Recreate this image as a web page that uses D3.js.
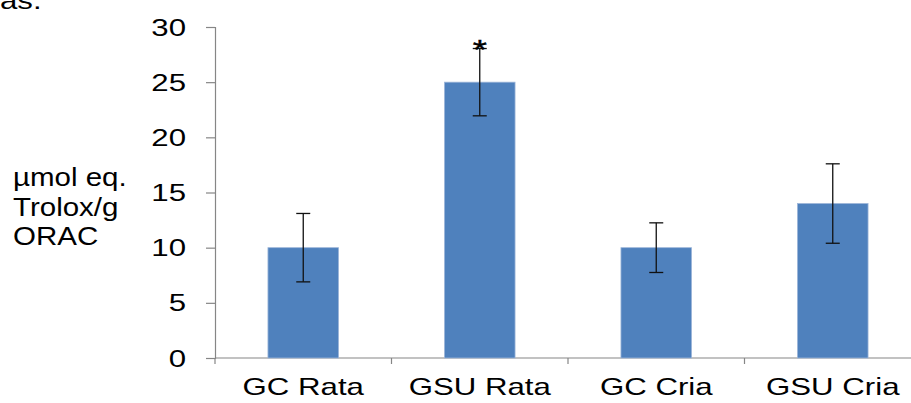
<!DOCTYPE html>
<html>
<head>
<meta charset="utf-8">
<script src="https://cdn.jsdelivr.net/npm/d3@7"></script>
<style>
  html, body { margin: 0; padding: 0; background: #fff; }
  svg { display: block; font-family: Arial, "Liberation Sans", sans-serif; }
</style>
</head>
<body>
<svg id="chart" width="911" height="403"></svg>
<script>
// ORAC antioxidant capacity per group
const categories = ["GC Rata", "GSU Rata", "GC Cria", "GSU Cria"];
const means = [10, 25, 10, 14];
const errors = [3.1, 3.05, 2.25, 3.6];
const marks = ["", "*", "", ""];
const yTicks = [0, 5, 10, 15, 20, 25, 30];
const yLabelLines = ["µmol eq.", "Trolox/g", "ORAC"];

const svg = d3.select("#chart");

const x0 = 215, y0 = 358, yTop = 27;
const band = 176.5;
const axisColor = "#868686";
const stretch = 1.3;   // wide letterforms used throughout the figure

const x = d3.scaleBand()
  .domain(categories)
  .range([x0, x0 + band * categories.length])
  .paddingInner(0.6)
  .paddingOuter(0.3);

const y = d3.scaleLinear().domain([0, 30]).range([y0, yTop]);

// text helper: horizontally widened labels
function label(sel, px, py, size, sx, anchor) {
  return sel.append("text")
    .attr("transform", `translate(${px},${py}) scale(${sx},1)`)
    .attr("font-size", size)
    .attr("text-anchor", anchor || "start")
    .attr("fill", "#000");
}

// caption fragment from the text above the figure
label(svg, 0, 9, 24, stretch, "start").text("as.");

// y axis
const yAxis = svg.append("g")
  .attr("transform", `translate(${x0},0)`)
  .call(d3.axisLeft(y).tickValues(yTicks).tickSize(9).tickFormat(""));
yAxis.select(".domain").attr("stroke", axisColor).attr("stroke-width", 1.2);
yAxis.selectAll(".tick line").attr("stroke", axisColor).attr("stroke-width", 1.2);
yTicks.forEach(t => {
  label(svg, 186, y(t) + 8.5, 24, stretch, "end").text(t);
});

// x axis: category boundary ticks
const boundaries = d3.range(categories.length + 1).map(i => x0 + i * band);
svg.append("line")
  .attr("x1", x0).attr("x2", 911)
  .attr("y1", y0).attr("y2", y0)
  .attr("stroke", axisColor).attr("stroke-width", 1.2);
svg.selectAll(".xtick").data(boundaries).join("line")
  .attr("class", "xtick")
  .attr("x1", d => d).attr("x2", d => d)
  .attr("y1", y0).attr("y2", y0 + 6)
  .attr("stroke", axisColor).attr("stroke-width", 1.2);

categories.forEach(c => {
  label(svg, x(c) + x.bandwidth() / 2, 395, 24, stretch, "middle").text(c);
});

// bars
svg.selectAll(".bar").data(categories).join("rect")
  .attr("class", "bar")
  .attr("x", d => x(d))
  .attr("width", x.bandwidth())
  .attr("y", (d, i) => y(means[i]))
  .attr("height", (d, i) => y0 - y(means[i]))
  .attr("fill", "#4F81BD")
  .attr("stroke", "#9DB6D9").attr("stroke-width", 0.8);

// error bars
const eb = svg.selectAll(".err").data(categories).join("g").attr("class", "err");
eb.append("line")
  .attr("x1", d => x(d) + x.bandwidth() / 2)
  .attr("x2", d => x(d) + x.bandwidth() / 2)
  .attr("y1", (d, i) => y(means[i] + errors[i]))
  .attr("y2", (d, i) => y(means[i] - errors[i]))
  .attr("stroke", "#111").attr("stroke-width", 1.3);
[1, -1].forEach(s => {
  eb.append("line")
    .attr("x1", d => x(d) + x.bandwidth() / 2 - 7)
    .attr("x2", d => x(d) + x.bandwidth() / 2 + 7)
    .attr("y1", (d, i) => y(means[i] + s * errors[i]))
    .attr("y2", (d, i) => y(means[i] + s * errors[i]))
    .attr("stroke", "#111").attr("stroke-width", 1.3);
});

// significance marks above the error bars
categories.forEach((c, i) => {
  if (!marks[i]) return;
  label(svg, x(c) + x.bandwidth() / 2, y(means[i] + errors[i]) + 10, 28, 1.3, "middle")
    .attr("stroke", "#000").attr("stroke-width", 0.4)
    .text(marks[i]);
});

// y axis title
yLabelLines.forEach((line, i) => {
  label(svg, 13, 186 + i * 29.5, 25, 1.18, "start").text(line);
});
</script>
</body>
</html>
